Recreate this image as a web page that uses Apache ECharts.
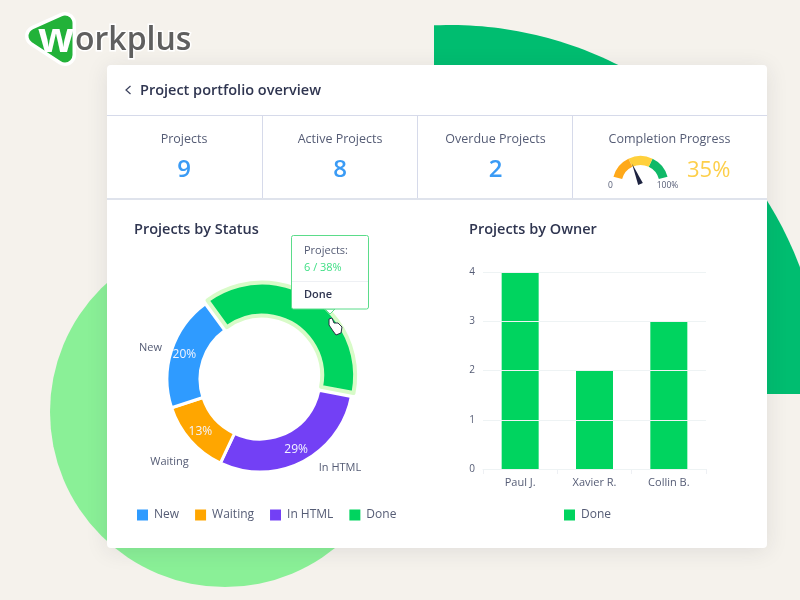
<!DOCTYPE html>
<html><head><meta charset="utf-8">
<style>html,body{margin:0;padding:0;background:#f5f2ec}#c{width:800px;height:600px}</style>
<script src="https://cdn.jsdelivr.net/npm/echarts@6/dist/echarts.min.js"></script>
</head><body><div id="c"></div>
<script>
const statusNames = ['Done', 'In HTML', 'Waiting', 'New'];
const statusValues = [38, 29, 13, 20];
const statusColors = ['#00d45f', '#7340f5', '#ffa600', '#2f9bff'];
const statusLegend = ['New', 'Waiting', 'In HTML', 'Done'];
const owners = ['Paul J.', 'Xavier R.', 'Collin B.'];
const ownerDone = [4, 2, 3];
const yTicks = [0, 1, 2, 3, 4];
const stats = [['Projects', '9'], ['Active Projects', '8'], ['Overdue Projects', '2']];
const completion = 35;

const FONT = '"Open Sans", sans-serif';
const INK = '#2f3550', MUTED = '#555c75';
const txt = (x, y, text, size, fill, extra) => ({
  type: 'text', x, y, z: 50,
  style: Object.assign({ text, fontFamily: FONT, fontSize: size, fill, textVerticalAlign: 'middle', verticalAlign: 'middle' }, extra || {})
});
const hline = (x1, x2, y, c, w) => ({ type: 'line', z: -5, shape: { x1, y1: y, x2, y2: y }, style: { stroke: c, lineWidth: w || 1 } });
const vline = (x, y1, y2, c) => ({ type: 'line', z: -5, shape: { x1: x, y1, x2: x, y2 }, style: { stroke: c, lineWidth: 1 } });

// clipped background disc, top right
const arc = [[434, 394], [434, 25.3]];
for (let x = 440; x <= 800; x += 6) arc.push([x, 399 - Math.sqrt(374 * 374 - (x - 450) * (x - 450))]);
arc.push([800, 394]);

const els = [
  { type: 'polygon', z: -20, shape: { points: arc }, style: { fill: '#00bd70' } },
  { type: 'circle', z: -20, shape: { cx: 225, cy: 412, r: 175 }, style: { fill: '#8af097' } },
  { type: 'rect', z: -10, shape: { x: 107, y: 65, width: 660, height: 483, r: 4 },
    style: { fill: '#fff', shadowBlur: 22, shadowColor: 'rgba(40,40,60,0.10)', shadowOffsetY: 3 } },
  hline(107, 767, 115.5, '#d6daea'),
  hline(107, 767, 199, '#dfe3ec', 2),
  vline(262.5, 115, 198, '#d6daea'), vline(417.5, 115, 198, '#d6daea'), vline(572.5, 115, 198, '#d6daea'),
  { type: 'polyline', z: 50, shape: { points: [[130.5, 86], [126, 90], [130.5, 94]] }, style: { stroke: '#3a405c', lineWidth: 1.2, fill: null } },
  txt(140, 91, 'Project portfolio overview', 14.5, INK, { fontWeight: 600 }),
  txt(134, 229.5, 'Projects by Status', 14.5, INK, { fontWeight: 600 }),
  txt(469, 229.5, 'Projects by Owner', 14.5, INK, { fontWeight: 600 }),
  txt(669.5, 139.5, 'Completion Progress', 12.5, MUTED, { textAlign: 'center', align: 'center' }),
  txt(687, 171, completion + '%', 22, '#fdcf4a', { fontWeight: 500 }),
  txt(610.5, 186, '0', 8.5, MUTED, { textAlign: 'center', align: 'center' }),
  txt(667.5, 186, '100%', 8.5, MUTED, { textAlign: 'center', align: 'center' }),
  // tooltip
  { type: 'polygon', z: 60, shape: { points: [[325, 309], [330, 314], [335, 309]] }, style: { fill: '#fff', stroke: '#5bdc8a', lineWidth: 1 } },
  { type: 'rect', z: 61, shape: { x: 291.5, y: 235.5, width: 77, height: 73.5, r: 2 }, style: { fill: '#fff', stroke: '#5bdc8a', lineWidth: 1 } },
  { type: 'line', z: 62, shape: { x1: 292, y1: 281.5, x2: 368, y2: 281.5 }, style: { stroke: '#eef0f4', lineWidth: 1 } },
  Object.assign(txt(304, 251, 'Projects:', 11, MUTED), { z: 63 }),
  Object.assign(txt(304, 268, '6 / 38%', 11, '#3fdf85'), { z: 63 }),
  Object.assign(txt(304, 295, 'Done', 11, INK, { fontWeight: 600 }), { z: 63 }),
  // cursor
  { type: 'polygon', z: 70, shape: { points: [[329, 319], [332, 318], [334, 323], [338, 323], [342, 327], [341, 333], [336, 335], [333, 331], [329, 325]] },
    style: { fill: '#fff', stroke: '#2a2f45', lineWidth: 1, lineJoin: 'round' } },
  // logo
  { type: 'polygon', z: 10, shape: { points: [[36, 36], [65, 23], [65, 55]] }, style: { fill: '#fff', stroke: '#fff', lineWidth: 22, lineJoin: 'round' } },
  { type: 'polygon', z: 11, shape: { points: [[36, 36], [65, 23], [65, 55]] }, style: { fill: '#22b239', stroke: '#22b239', lineWidth: 15, lineJoin: 'round' } },
  Object.assign(txt(38, 40, 'w', 42, '#fff', { fontWeight: 700 }), { z: 12 }),
  Object.assign(txt(75, 41, 'orkplus', 32, '#5f5f5f', { fontWeight: 600, stroke: '#fff', lineWidth: 3 }), { z: 12 })
];
[184, 340, 495.5].forEach((cx, i) => {
  els.push(txt(cx, 139.5, stats[i][0], 12.5, MUTED, { textAlign: 'center', align: 'center' }));
  els.push(txt(cx, 170.5, stats[i][1], 24, '#3a9bf5', { textAlign: 'center', align: 'center', fontWeight: 600 }));
});

const pieCommon = { type: 'pie', center: [260, 379], radius: [60, 93], startAngle: 126, clockwise: true, animation: false, silent: true };
const pieData = statusNames.map((name, i) => ({
  name, value: statusValues[i],
  selected: name === 'Done',
  itemStyle: name === 'Done'
    ? { color: statusColors[i], borderColor: '#d8fbc8', borderWidth: 4 }
    : { color: statusColors[i], borderColor: '#fff', borderWidth: 3 },
  select: name === 'Done' ? { itemStyle: { color: statusColors[i], borderColor: '#d8fbc8', borderWidth: 4 } } : undefined,
  label: name === 'Done' ? { show: false } : undefined
}));
const outerData = statusNames.map((name, i) => ({
  name, value: statusValues[i],
  label: name === 'Done' ? { show: false } : undefined
}));
const nudge = { 'In HTML': [12, -3], 'Waiting': [6, 15], 'New': [0, 1] };

const chart = echarts.init(document.getElementById('c'), null, { renderer: 'canvas' });
chart.setOption({
  animation: false,
  backgroundColor: '#f5f2ec',
  textStyle: { fontFamily: FONT },
  graphic: { elements: els },
  legend: [
    { data: statusLegend, left: 132, top: 504, itemWidth: 11, itemHeight: 11, itemGap: 16, icon: 'rect',
      selectedMode: false, itemStyle: { borderWidth: 0 }, textStyle: { color: MUTED, fontSize: 12, fontFamily: FONT, padding: [0, 0, 0, 1] } },
    { data: ['Done'], left: 559, top: 504, itemWidth: 11, itemHeight: 11, icon: 'rect',
      selectedMode: false, itemStyle: { borderWidth: 0 }, textStyle: { color: MUTED, fontSize: 12, fontFamily: FONT, padding: [0, 0, 0, 1] } }
  ],
  grid: { left: 483, top: 272, width: 223, height: 197, containLabel: false },
  xAxis: {
    type: 'category', data: owners, boundaryGap: true,
    axisLine: { lineStyle: { color: '#eef0f4' } },
    axisTick: { show: true, length: 5, lineStyle: { color: '#eef0f4' } },
    axisLabel: { color: MUTED, fontSize: 11, fontFamily: FONT, margin: 8 }
  },
  yAxis: {
    type: 'value', min: 0, max: 4, interval: 1, z: 5,
    axisLine: { show: false }, axisTick: { show: false },
    splitLine: { show: true, lineStyle: { color: '#eef3f4', width: 1 } },
    axisLabel: { color: MUTED, fontSize: 10, fontFamily: FONT, margin: 8,
      formatter: v => yTicks.includes(v) ? String(v) : '' }
  },
  series: [
    Object.assign({}, pieCommon, {
      name: 'Status', data: pieData, z: 3, selectedMode: 'single', selectedOffset: 4,
      label: { show: true, position: 'inside', color: '#f2f4ff', fontSize: 12, fontFamily: FONT, formatter: '{c}%' },
      labelLine: { show: false }
    }),
    Object.assign({}, pieCommon, {
      name: 'Status names', data: outerData, z: 2,
      itemStyle: { color: 'rgba(0,0,0,0)' },
      label: { show: true, position: 'outside', color: MUTED, fontSize: 11, fontFamily: FONT, formatter: '{b}', distanceToLabelLine: 0 },
      labelLine: { show: false, length: 10, length2: 0 },
      labelLayout: p => {
        const n = nudge[statusNames[p.dataIndex]] || [0, 0];
        return { dx: n[0], dy: n[1] };
      }
    }),
    { type: 'bar', name: 'Done', data: ownerDone, barWidth: 37, itemStyle: { color: '#00d45f' }, silent: true, animation: false, z: 2 },
    { type: 'gauge', center: [640.5, 184], radius: 28, startAngle: 165, endAngle: 15, min: 0, max: 100, silent: true, animation: false,
      axisLine: { lineStyle: { width: 9, color: [[0.33, '#ffa91a'], [0.67, '#ffd03c'], [1, '#10b968']] } },
      axisTick: { show: false }, splitLine: { show: false }, axisLabel: { show: false },
      pointer: { length: 22, width: 5, offsetCenter: [0, 0], itemStyle: { color: '#1d2340' }, icon: 'triangle' },
      anchor: { show: false }, title: { show: false }, detail: { show: false },
      data: [{ value: completion }] }
  ]
});
</script></body></html>
